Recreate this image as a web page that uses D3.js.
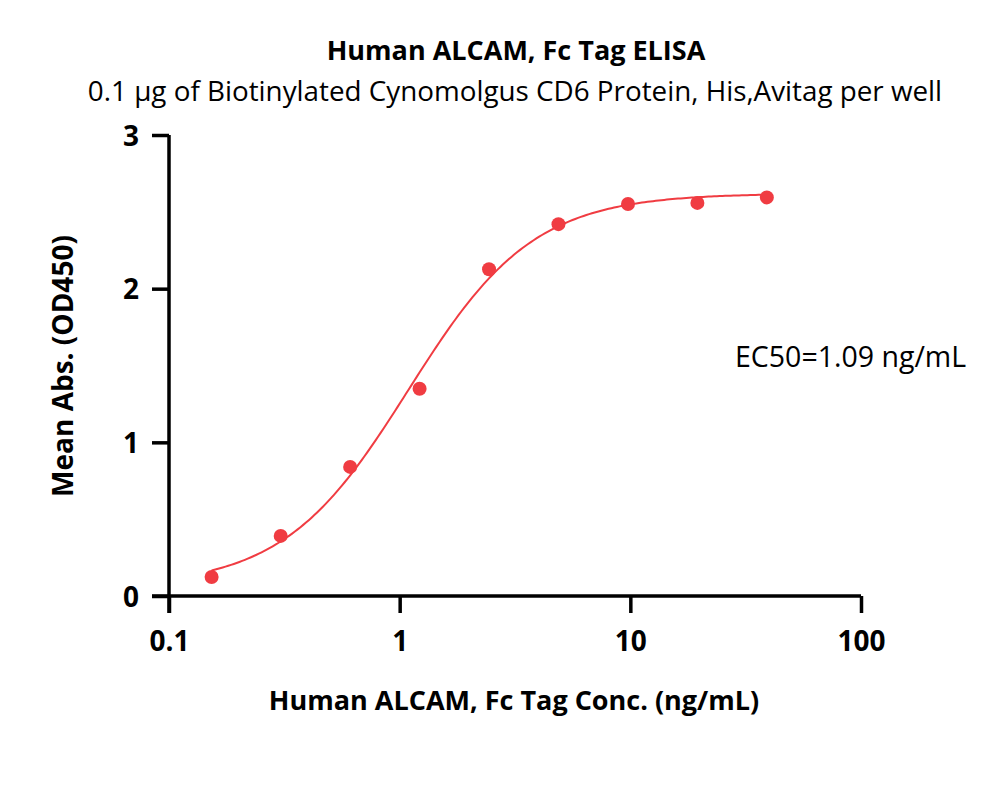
<!DOCTYPE html>
<html>
<head>
<meta charset="UTF-8">
<title>Human ALCAM ELISA</title>
<style>
  body { margin: 0; background: #fff; }
  text { font-family: "Open Sans", sans-serif; }
</style>
</head>
<body>
<div id="chart"></div>
<script src="https://d3js.org/d3.v7.min.js"></script>
<script>
// data (ng/mL vs mean OD450)
var conc = [0.153, 0.305, 0.61, 1.22, 2.44, 4.88, 9.77, 19.53, 39.06];
var od450 = [0.124, 0.391, 0.84, 1.349, 2.126, 2.42, 2.551, 2.558, 2.594];
var xTicks = [0.1, 1, 10, 100];
var yTicks = [0, 1, 2, 3];
// 4PL fit parameters
var fitBottom = 0.06, fitTop = 2.62, ec50 = 1.09, hill = 1.6;

var width = 1000, height = 791;
var margin = { top: 135, right: 139, bottom: 195, left: 169 };
var red = "#f03c42";

var svg = d3.select("#chart").append("svg")
  .attr("width", width).attr("height", height);

var x = d3.scaleLog().domain([0.1, 100]).range([margin.left, width - margin.right]);
var y = d3.scaleLinear().domain([0, 3]).range([height - margin.bottom, margin.top]);

// axes
var xAxis = svg.append("g")
  .attr("transform", "translate(0," + y(0) + ")")
  .call(d3.axisBottom(x).tickValues(xTicks).tickSize(17).tickSizeOuter(0).tickFormat(d3.format("")));
var yAxis = svg.append("g")
  .attr("transform", "translate(" + x(0.1) + ",0)")
  .call(d3.axisLeft(y).tickValues(yTicks).tickSize(17).tickSizeOuter(0).tickFormat(d3.format("d")));

[xAxis, yAxis].forEach(function(g) {
  g.selectAll("path, line").attr("stroke", "#000").attr("stroke-width", 3.5);
  g.selectAll("text").attr("font-size", "28px").attr("font-weight", "bold")
    .attr("fill", "#000").style("font-family", "'Open Sans', sans-serif");
});
xAxis.select(".domain").attr("d", "M" + (x(0.1) - 17) + ",0H" + x(100));
yAxis.select(".domain").attr("d", "M0," + y(3) + "V" + (y(0) + 17));
xAxis.selectAll(".tick text").attr("y", 55).attr("dy", 0);
yAxis.selectAll(".tick text").attr("x", -30).attr("dy", "0.36em");

// fitted curve
var curveX = d3.range(0, 201).map(function(i) {
  return Math.pow(10, Math.log10(conc[0]) + i / 200 * (Math.log10(conc[conc.length - 1]) - Math.log10(conc[0])));
});
var fit = function(c) { return fitBottom + (fitTop - fitBottom) / (1 + Math.pow(ec50 / c, hill)); };
svg.append("path")
  .datum(curveX)
  .attr("d", d3.line().x(function(d) { return x(d); }).y(function(d) { return y(fit(d)); }))
  .attr("fill", "none").attr("stroke", red).attr("stroke-width", 2);

// points
svg.selectAll("circle.pt")
  .data(conc)
  .join("circle")
  .attr("class", "pt")
  .attr("cx", function(d) { return x(d); })
  .attr("cy", function(d, i) { return y(od450[i]); })
  .attr("r", 7)
  .attr("fill", red);

// titles
svg.append("text").attr("x", 516).attr("y", 60).attr("text-anchor", "middle")
  .attr("font-size", "27px").attr("font-weight", "bold")
  .text("Human ALCAM, Fc Tag ELISA");
svg.append("text").attr("x", 515).attr("y", 101).attr("text-anchor", "middle")
  .attr("font-size", "27.8px")
  .text("0.1 µg of Biotinylated Cynomolgus CD6 Protein, His,Avitag per well");
svg.append("text").attr("x", 514).attr("y", 710).attr("text-anchor", "middle")
  .attr("font-size", "27px").attr("font-weight", "bold")
  .text("Human ALCAM, Fc Tag Conc. (ng/mL)");
svg.append("text").attr("transform", "translate(73,366) rotate(-90)").attr("text-anchor", "middle")
  .attr("font-size", "28px").attr("font-weight", "bold")
  .text("Mean Abs. (OD450)");
svg.append("text").attr("x", 735).attr("y", 367)
  .attr("font-size", "28.5px")
  .text("EC50=1.09 ng/mL");
</script>
</body>
</html>
